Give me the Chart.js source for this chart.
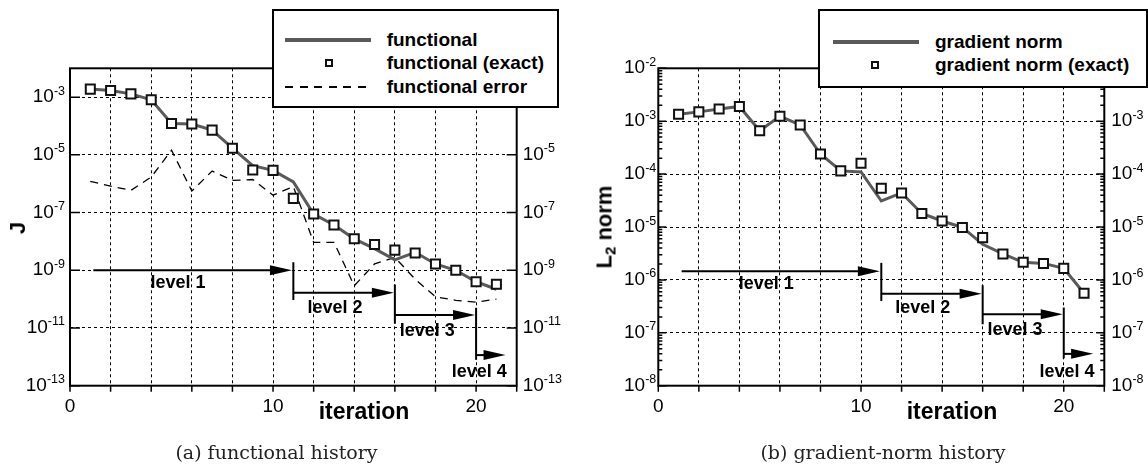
<!DOCTYPE html>
<html>
<head>
<meta charset="utf-8">
<script src="https://cdn.jsdelivr.net/npm/chart.js@4.4.1/dist/chart.umd.min.js"></script>
<style>
  body { margin:0; background:#fff; font-family:"Liberation Sans", Arial, sans-serif; }
  #fig { position:relative; width:1148px; height:466px; overflow:hidden; background:#fff; }
  canvas { position:absolute; top:0; }
  .legend { position:absolute; box-sizing:border-box; border:2px solid #000; background:#fff; }
  .legend .txt { position:absolute; height:24px; line-height:24px; font-weight:bold; font-size:19px; white-space:nowrap; }
  .sw-line { position:absolute; height:4px; background:#5a5a5a; }
  .sw-dash { position:absolute; height:1.5px; background:repeating-linear-gradient(to right,#000 0 8px,transparent 8px 14.5px); }
  .sw-box { position:absolute; width:8px; height:8px; box-sizing:border-box; border:2px solid #111; background:#fff; }
  .title { position:absolute; font-weight:bold; font-size:23px; white-space:nowrap; transform:translate(-50%,-50%); }
  .ytitle { position:absolute; font-weight:bold; font-size:22px; white-space:nowrap; transform:translate(-50%,-50%) rotate(-90deg); }
  .ytitle sub { font-size:15px; vertical-align:-4px; }
  .caption { position:absolute; font-family:"DejaVu Serif", serif; font-size:19px; color:#222; white-space:nowrap; transform:translate(-50%,-50%); }
</style>
</head>
<body>
<div id="fig">
  <canvas id="chartJ" width="580" height="430" style="left:0"></canvas>
  <canvas id="chartG" width="568" height="430" style="left:580px"></canvas>

  <div class="legend" style="left:271.7px;top:9.3px;width:287.6px;height:98.4px">
    <div class="sw-line" style="left:11.3px;top:26.7px;width:85.7px"></div>
    <div class="txt" style="left:113px;top:16.7px">functional</div>
    <div class="sw-box" style="left:51.3px;top:48.2px"></div>
    <div class="txt" style="left:113px;top:40.2px">functional (exact)</div>
    <div class="sw-dash" style="left:11.3px;top:75px;width:85.7px"></div>
    <div class="txt" style="left:113px;top:63.7px">functional error</div>
  </div>

  <div class="legend" style="left:817.7px;top:9.3px;width:330px;height:79px">
    <div class="sw-line" style="left:13.6px;top:28.4px;width:86px"></div>
    <div class="txt" style="left:115.3px;top:18.4px">gradient norm</div>
    <div class="sw-box" style="left:51.3px;top:49.7px"></div>
    <div class="txt" style="left:115.3px;top:41.7px">gradient norm (exact)</div>
  </div>

  <div class="ytitle" style="left:18px;top:228px">J</div>
  <div class="ytitle" style="left:605px;top:227px">L<sub>2</sub> norm</div>
  <div class="title" style="left:364px;top:411px">iteration</div>
  <div class="title" style="left:952px;top:411px">iteration</div>
  <div class="caption" style="left:276.5px;top:451.7px">(a) functional history</div>
  <div class="caption" style="left:883px;top:451.7px">(b) gradient-norm history</div>
</div>

<script>
/* ===== DATA ===== */
const iterations = [1,2,3,4,5,6,7,8,9,10,11,12,13,14,15,16,17,18,19,20,21];

const functional      = [1.9e-3,1.7e-3,1.3e-3,8.1e-4,1.23e-4,1.17e-4,7.2e-5,1.7e-5,4.2e-6,2.9e-6,1.15e-6,
                         8.9e-8,3.7e-8,1.23e-8,5.6e-9,2.3e-9,4.2e-9,1.66e-9,1.0e-9,4.0e-10,2.2e-10];
const functionalExact = [1.9e-3,1.7e-3,1.3e-3,8.1e-4,1.23e-4,1.17e-4,7.2e-5,1.7e-5,3.0e-6,2.9e-6,3.1e-7,
                         8.9e-8,3.7e-8,1.23e-8,7.8e-9,5.0e-9,4.0e-9,1.66e-9,1.0e-9,4.0e-10,3.3e-10];
const functionalError = [1.2e-6,8.3e-7,5.9e-7,1.7e-6,1.45e-5,5.6e-7,2.75e-6,1.3e-6,1.4e-6,4.0e-7,8.0e-7,
                         9.3e-9,9.3e-9,2.9e-10,1.66e-9,2.8e-9,4.9e-10,1.2e-10,9.1e-11,7.9e-11,1.0e-10];

const gradNorm      = [1.35e-3,1.5e-3,1.7e-3,1.9e-3,6.6e-4,1.24e-3,8.5e-4,2.4e-4,1.15e-4,1.1e-4,3.1e-5,
                       4.4e-5,1.8e-5,1.3e-5,9.8e-6,4.7e-6,3.1e-6,2.15e-6,2.05e-6,1.65e-6,5.6e-7];
const gradNormExact = [1.35e-3,1.5e-3,1.7e-3,1.9e-3,6.6e-4,1.24e-3,8.5e-4,2.4e-4,1.15e-4,1.6e-4,5.4e-5,
                       4.4e-5,1.8e-5,1.3e-5,9.8e-6,6.3e-6,3.1e-6,2.15e-6,2.05e-6,1.65e-6,5.6e-7];

const xTicks  = [0,2,4,6,8,10,12,14,16,18,20,22];
const xLabels = ['0','','','','','10','','','','','20',''];

const jTicks = [1e-3,1e-5,1e-7,1e-9,1e-11,1e-13];
const jExp   = ['-3','-5','-7','-9','-11','-13'];
const gTicks = [1e-2,1e-3,1e-4,1e-5,1e-6,1e-7,1e-8];
const gExp   = ['-2','-3','-4','-5','-6','-7','-8'];

// multigrid level annotations (iteration units / axis values)
const levelNames = ['level 1','level 2','level 3','level 4'];
const levelFrom  = [1.15, 11, 16, 20];
const levelTo    = [10.93, 15.95, 19.95, 21.45];
const levelTextX = [5.32, 13.05, 17.6, 20.16];

const jArrowY   = [1e-9, 1.66e-10, 2.8e-11, 1.15e-12];
const jBarTop   = [null, 1.9e-9, 3.2e-10, 5e-11];
const jBarBot   = [null, 9.3e-11, 1.4e-11, 7.9e-13];
const jTextY    = [3.5e-10, 4.8e-11, 7.8e-12, 2.9e-13];

const gArrowY   = [1.46e-6, 5.5e-7, 2.24e-7, 4e-8];
const gBarTop   = [null, 2.1e-6, 7.9e-7, 3e-7];
const gBarBot   = [null, 4e-7, 1.45e-7, 3.3e-8];
const gTextY    = [8.3e-7, 3.0e-7, 1.12e-7, 1.85e-8];

/* ===== HELPERS ===== */
const FONT = '"Liberation Sans", Arial, sans-serif';
const LINE_GREY = '#5a5a5a';
const pts = (xs, ys) => xs.map((x, i) => ({ x, y: ys[i] }));

// minor log ticks 2..9 x 10^n for the gradient panel
const gMinor = [];
gTicks.slice(1).forEach(d => { for (let k = 2; k <= 9; k++) gMinor.push(d * k); });

function pow10(ctx, x, y, exp, align) {
  ctx.font = '19px ' + FONT;
  const w1 = ctx.measureText('10').width;
  ctx.font = '12.5px ' + FONT;
  const w2 = ctx.measureText(exp).width;
  const x0 = align === 'right' ? x - w1 - w2 : x;
  ctx.textAlign = 'left'; ctx.textBaseline = 'alphabetic';
  ctx.font = '19px ' + FONT; ctx.fillText('10', x0, y + 5);
  ctx.font = '12.5px ' + FONT; ctx.fillText(exp, x0 + w1, y - 2.5);
}

function decor(cfg) {
  return {
    id: 'decor',
    afterDraw(chart) {
      const { ctx, chartArea: a } = chart;
      const sx = chart.scales.x, sy = chart.scales.y;
      ctx.save();
      ctx.strokeStyle = '#000'; ctx.fillStyle = '#000';

      // frame
      ctx.lineWidth = 2;
      ctx.strokeRect(a.left, a.top, a.right - a.left, a.bottom - a.top);

      // ticks
      ctx.lineWidth = 1.5;
      ctx.beginPath();
      xTicks.forEach(v => { const px = sx.getPixelForValue(v); ctx.moveTo(px, a.bottom); ctx.lineTo(px, a.bottom + 6); });
      cfg.yTicks.forEach(v => {
        const py = sy.getPixelForValue(v);
        ctx.moveTo(a.left, py); ctx.lineTo(a.left + cfg.major, py);
        ctx.moveTo(a.right, py); ctx.lineTo(a.right - cfg.major, py);
      });
      (cfg.minor || []).forEach(v => {
        const py = sy.getPixelForValue(v);
        ctx.moveTo(a.left, py); ctx.lineTo(a.left + 4, py);
        ctx.moveTo(a.right, py); ctx.lineTo(a.right - 4, py);
      });
      ctx.stroke();

      // tick labels
      ctx.font = '19px ' + FONT; ctx.textAlign = 'center'; ctx.textBaseline = 'alphabetic';
      xTicks.forEach((v, i) => { if (xLabels[i]) ctx.fillText(xLabels[i], sx.getPixelForValue(v), a.bottom + 26); });
      cfg.yTicks.forEach((v, i) => {
        const py = sy.getPixelForValue(v);
        pow10(ctx, a.left - cfg.gapL, py, cfg.yExp[i], 'right');
        pow10(ctx, a.right + cfg.gapR, py, cfg.yExp[i], 'left');
      });

      // level arrows
      levelNames.forEach((name, i) => {
        const x0 = sx.getPixelForValue(levelFrom[i]);
        const x1 = sx.getPixelForValue(levelTo[i]);
        const py = sy.getPixelForValue(cfg.arrowY[i]);
        ctx.lineWidth = 2;
        ctx.beginPath(); ctx.moveTo(x0, py); ctx.lineTo(x1 - 20, py); ctx.stroke();
        ctx.beginPath(); ctx.moveTo(x1, py); ctx.lineTo(x1 - 22, py - 5); ctx.lineTo(x1 - 22, py + 5); ctx.closePath(); ctx.fill();
        if (cfg.barTop[i] !== null) {
          ctx.beginPath();
          ctx.moveTo(x0, sy.getPixelForValue(cfg.barTop[i]));
          ctx.lineTo(x0, sy.getPixelForValue(cfg.barBot[i]));
          ctx.stroke();
        }
        ctx.font = 'bold 18px ' + FONT; ctx.textAlign = 'center'; ctx.textBaseline = 'middle';
        ctx.fillText(name, sx.getPixelForValue(levelTextX[i]), sy.getPixelForValue(cfg.textY[i]));
      });
      ctx.restore();
    }
  };
}

function makeChart(id, cfg) {
  const ctx = document.getElementById(id); if (!ctx) return;
  const gridOpts = { color:'#000', lineWidth:1, drawTicks:false };
  new Chart(ctx, {
    type: 'line',
    data: { datasets: cfg.datasets },
    options: {
      responsive:false, animation:false, events:[],
      layout:{ autoPadding:false, padding:cfg.padding },
      plugins:{ legend:{display:false}, tooltip:{enabled:false} },
      scales:{
        x:{ type:'linear', min:0, max:22,
            afterBuildTicks: s => { s.ticks = xTicks.map(v => ({ value:v })); },
            ticks:{display:false}, border:{display:false, dash:[3,3]}, grid:gridOpts },
        y:{ type:'logarithmic', min:cfg.yMin, max:cfg.yMax,
            afterBuildTicks: s => { s.ticks = cfg.yTicks.map(v => ({ value:v })); },
            ticks:{display:false}, border:{display:false, dash:[3,3]}, grid:gridOpts }
      }
    },
    plugins: [decor(cfg)]
  });
}

const lineSet  = d => ({ data:d, borderColor:LINE_GREY, borderWidth:3, pointRadius:0, tension:0, order:1 });
const exactSet = d => ({ data:d, showLine:false, pointStyle:'rect', pointRadius:6.4, pointBorderWidth:2,
                         pointBorderColor:'#111', pointBackgroundColor:'#fff', order:0 });

/* ===== FUNCTIONAL HISTORY ===== */
makeChart('chartJ', {
  padding:{ left:70, top:68.3, right:63.3, bottom:44.3 },
  yMin:1e-13, yMax:1e-2, yTicks:jTicks, yExp:jExp, major:10, gapL:5, gapR:6,
  arrowY:jArrowY, barTop:jBarTop, barBot:jBarBot, textY:jTextY,
  datasets:[
    exactSet(pts(iterations, functionalExact)),
    lineSet(pts(iterations, functional)),
    { data:pts(iterations, functionalError), borderColor:'#000', borderWidth:1.3, borderDash:[8,6],
      pointRadius:0, tension:0, order:2 }
  ]
});

/* ===== GRADIENT-NORM HISTORY ===== */
makeChart('chartG', {
  padding:{ left:78.3, top:68.3, right:43.7, bottom:44.3 },
  yMin:1e-8, yMax:1e-2, yTicks:gTicks, yExp:gExp, minor:gMinor, major:8, gapL:2, gapR:7,
  arrowY:gArrowY, barTop:gBarTop, barBot:gBarBot, textY:gTextY,
  datasets:[
    exactSet(pts(iterations, gradNormExact)),
    lineSet(pts(iterations, gradNorm))
  ]
});
</script>
</body>
</html>
